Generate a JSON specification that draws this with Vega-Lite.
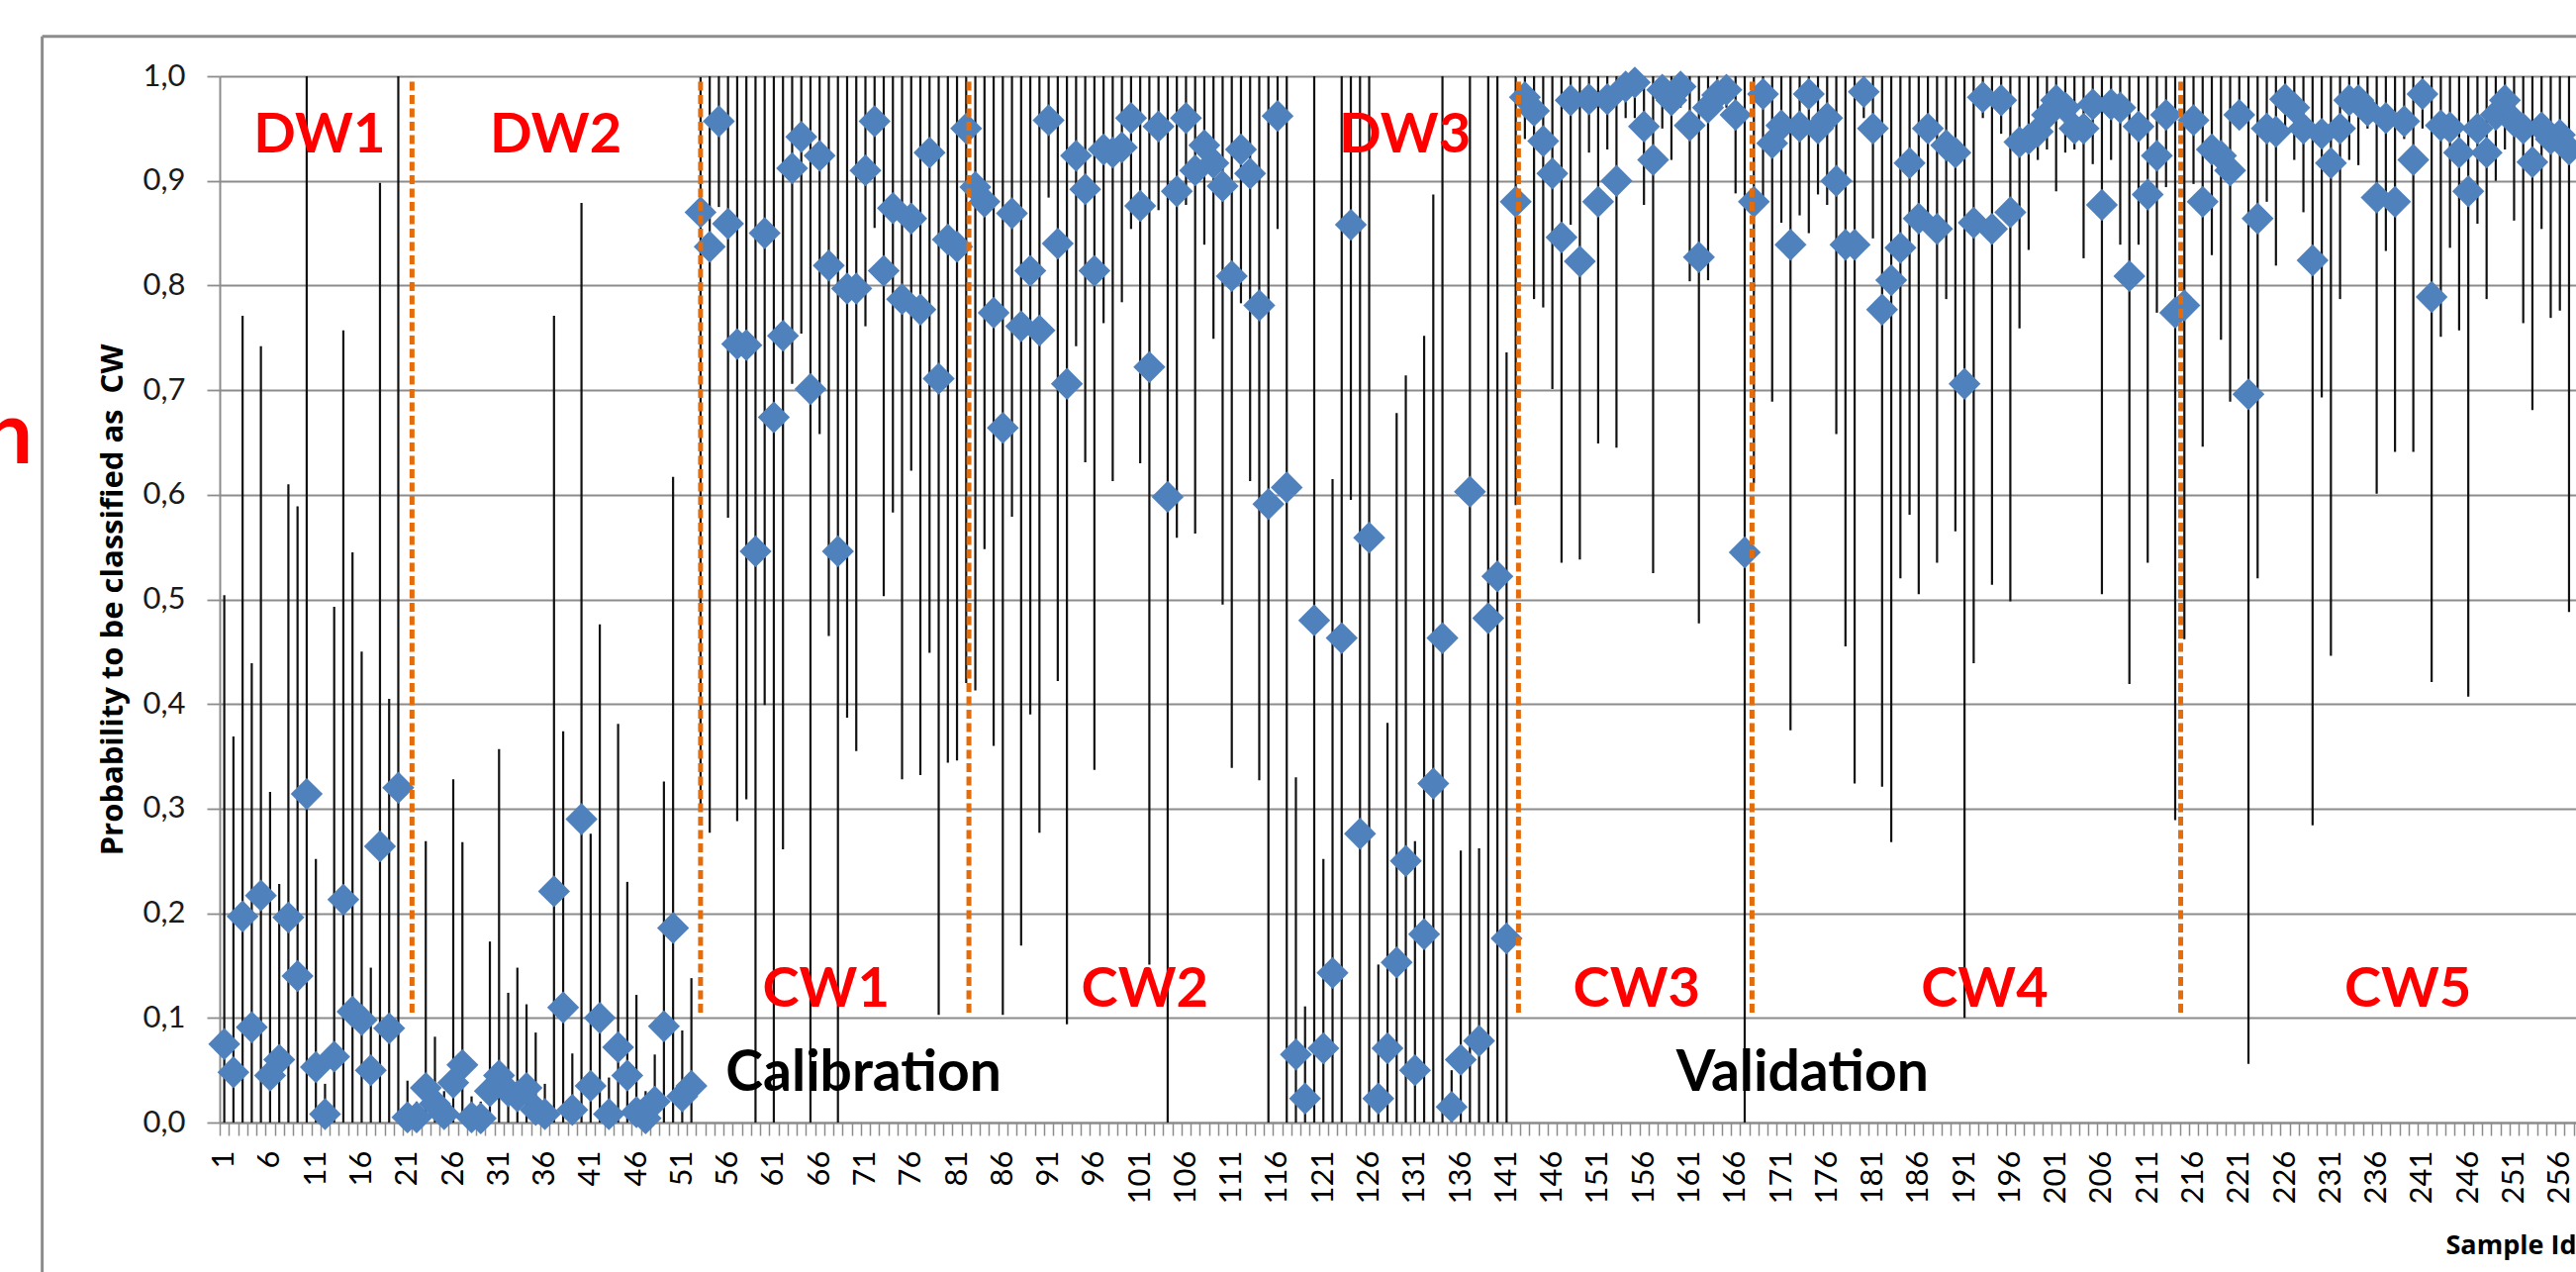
{
  "$schema": "https://vega.github.io/schema/vega-lite/v6.json",
  "width": 2381,
  "height": 1057,
  "autosize": {"type": "none"},
  "padding": {"left": 222, "top": 77, "right": 0, "bottom": 151},
  "background": "white",
  "config": {"view": {"stroke": null}, "font": "Lato", "axis": {"labelFont": "Lato", "titleFont": "Lato"}},
  "datasets": {
    "samples": [
      {"s":1,"p":0.075,"lo":0,"hi":0.504},{"s":2,"p":0.048,"lo":0,"hi":0.369},{"s":3,"p":0.197,"lo":0,"hi":0.771},{"s":4,"p":0.091,"lo":0,"hi":0.439},{"s":5,"p":0.217,"lo":0,"hi":0.742},
      {"s":6,"p":0.045,"lo":0,"hi":0.316},{"s":7,"p":0.06,"lo":0,"hi":0.228},{"s":8,"p":0.196,"lo":0,"hi":0.61},{"s":9,"p":0.14,"lo":0,"hi":0.589},{"s":10,"p":0.314,"lo":0,"hi":1},
      {"s":11,"p":0.053,"lo":0,"hi":0.252},{"s":12,"p":0.008,"lo":0,"hi":0.037},{"s":13,"p":0.063,"lo":0,"hi":0.493},{"s":14,"p":0.213,"lo":0,"hi":0.757},{"s":15,"p":0.106,"lo":0,"hi":0.545},
      {"s":16,"p":0.098,"lo":0,"hi":0.45},{"s":17,"p":0.05,"lo":0,"hi":0.148},{"s":18,"p":0.264,"lo":0,"hi":0.898},{"s":19,"p":0.09,"lo":0,"hi":0.405},{"s":20,"p":0.32,"lo":0,"hi":1},
      {"s":21,"p":0.005,"lo":0,"hi":0.04},{"s":22,"p":0.005,"lo":0,"hi":0.02},{"s":23,"p":0.033,"lo":0,"hi":0.269},{"s":24,"p":0.018,"lo":0,"hi":0.082},{"s":25,"p":0.008,"lo":0,"hi":0.03},
      {"s":26,"p":0.038,"lo":0,"hi":0.328},{"s":27,"p":0.055,"lo":0,"hi":0.268},{"s":28,"p":0.005,"lo":0,"hi":0.025},{"s":29,"p":0.004,"lo":0,"hi":0.02},{"s":30,"p":0.03,"lo":0,"hi":0.173},
      {"s":31,"p":0.045,"lo":0,"hi":0.357},{"s":32,"p":0.03,"lo":0,"hi":0.124},{"s":33,"p":0.025,"lo":0,"hi":0.148},{"s":34,"p":0.033,"lo":0,"hi":0.113},{"s":35,"p":0.012,"lo":0,"hi":0.086},
      {"s":36,"p":0.008,"lo":0,"hi":0.037},{"s":37,"p":0.221,"lo":0,"hi":0.771},{"s":38,"p":0.11,"lo":0,"hi":0.374},{"s":39,"p":0.012,"lo":0,"hi":0.066},{"s":40,"p":0.29,"lo":0,"hi":0.879},
      {"s":41,"p":0.035,"lo":0,"hi":0.276},{"s":42,"p":0.1,"lo":0,"hi":0.476},{"s":43,"p":0.008,"lo":0,"hi":0.043},{"s":44,"p":0.072,"lo":0,"hi":0.381},{"s":45,"p":0.045,"lo":0,"hi":0.23},
      {"s":46,"p":0.01,"lo":0,"hi":0.122},{"s":47,"p":0.004,"lo":0,"hi":0.03},{"s":48,"p":0.02,"lo":0,"hi":0.065},{"s":49,"p":0.092,"lo":0,"hi":0.326},{"s":50,"p":0.186,"lo":0,"hi":0.617},
      {"s":51,"p":0.025,"lo":0,"hi":0.088},{"s":52,"p":0.035,"lo":0,"hi":0.138},{"s":53,"p":0.87,"lo":0.3,"hi":1},{"s":54,"p":0.837,"lo":0.277,"hi":1},{"s":55,"p":0.957,"lo":0.875,"hi":1},
      {"s":56,"p":0.859,"lo":0.578,"hi":1},{"s":57,"p":0.744,"lo":0.288,"hi":1},{"s":58,"p":0.743,"lo":0.309,"hi":1},{"s":59,"p":0.546,"lo":0,"hi":1},{"s":60,"p":0.85,"lo":0.399,"hi":1},
      {"s":61,"p":0.674,"lo":0,"hi":1},{"s":62,"p":0.752,"lo":0.261,"hi":1},{"s":63,"p":0.912,"lo":0.706,"hi":1},{"s":64,"p":0.942,"lo":0.754,"hi":1},{"s":65,"p":0.701,"lo":0,"hi":1},
      {"s":66,"p":0.924,"lo":0.658,"hi":1},{"s":67,"p":0.819,"lo":0.465,"hi":1},{"s":68,"p":0.546,"lo":0,"hi":1},{"s":69,"p":0.797,"lo":0.387,"hi":1},{"s":70,"p":0.797,"lo":0.355,"hi":1},
      {"s":71,"p":0.91,"lo":0.761,"hi":1},{"s":72,"p":0.957,"lo":0.855,"hi":1},{"s":73,"p":0.814,"lo":0.503,"hi":1},{"s":74,"p":0.874,"lo":0.583,"hi":1},{"s":75,"p":0.787,"lo":0.328,"hi":1},
      {"s":76,"p":0.864,"lo":0.623,"hi":1},{"s":77,"p":0.777,"lo":0.332,"hi":1},{"s":78,"p":0.927,"lo":0.449,"hi":1},{"s":79,"p":0.711,"lo":0.103,"hi":1},{"s":80,"p":0.844,"lo":0.344,"hi":1},
      {"s":81,"p":0.837,"lo":0.346,"hi":1},{"s":82,"p":0.95,"lo":0.42,"hi":1},{"s":83,"p":0.894,"lo":0.413,"hi":1},{"s":84,"p":0.88,"lo":0.548,"hi":1},{"s":85,"p":0.774,"lo":0.36,"hi":1},
      {"s":86,"p":0.664,"lo":0.103,"hi":1},{"s":87,"p":0.869,"lo":0.579,"hi":1},{"s":88,"p":0.761,"lo":0.169,"hi":1},{"s":89,"p":0.814,"lo":0.39,"hi":1},{"s":90,"p":0.757,"lo":0.277,"hi":1},
      {"s":91,"p":0.958,"lo":0.884,"hi":1},{"s":92,"p":0.84,"lo":0.422,"hi":1},{"s":93,"p":0.706,"lo":0.094,"hi":1},{"s":94,"p":0.924,"lo":0.742,"hi":1},{"s":95,"p":0.892,"lo":0.631,"hi":1},
      {"s":96,"p":0.814,"lo":0.337,"hi":1},{"s":97,"p":0.93,"lo":0.764,"hi":1},{"s":98,"p":0.927,"lo":0.613,"hi":1},{"s":99,"p":0.932,"lo":0.784,"hi":1},{"s":100,"p":0.96,"lo":0.854,"hi":1},
      {"s":101,"p":0.876,"lo":0.63,"hi":1},{"s":102,"p":0.722,"lo":0.151,"hi":1},{"s":103,"p":0.952,"lo":0.872,"hi":1},{"s":104,"p":0.598,"lo":0,"hi":1},{"s":105,"p":0.89,"lo":0.559,"hi":1},
      {"s":106,"p":0.96,"lo":0.877,"hi":1},{"s":107,"p":0.91,"lo":0.563,"hi":1},{"s":108,"p":0.934,"lo":0.839,"hi":1},{"s":109,"p":0.917,"lo":0.749,"hi":1},{"s":110,"p":0.895,"lo":0.495,"hi":1},
      {"s":111,"p":0.809,"lo":0.339,"hi":1},{"s":112,"p":0.93,"lo":0.783,"hi":1},{"s":113,"p":0.907,"lo":0.613,"hi":1},{"s":114,"p":0.781,"lo":0.327,"hi":1},{"s":115,"p":0.591,"lo":0,"hi":1},
      {"s":116,"p":0.962,"lo":0.854,"hi":1},{"s":117,"p":0.607,"lo":0,"hi":1},{"s":118,"p":0.065,"lo":0,"hi":0.33},{"s":119,"p":0.023,"lo":0,"hi":0.111},{"s":120,"p":0.48,"lo":0,"hi":1},
      {"s":121,"p":0.071,"lo":0,"hi":0.252},{"s":122,"p":0.143,"lo":0,"hi":0.615},{"s":123,"p":0.463,"lo":0,"hi":1},{"s":124,"p":0.858,"lo":0.595,"hi":1},{"s":125,"p":0.276,"lo":0,"hi":1},
      {"s":126,"p":0.559,"lo":0,"hi":1},{"s":127,"p":0.023,"lo":0,"hi":0.151},{"s":128,"p":0.071,"lo":0,"hi":0.382},{"s":129,"p":0.153,"lo":0,"hi":0.678},{"s":130,"p":0.25,"lo":0,"hi":0.714},
      {"s":131,"p":0.05,"lo":0,"hi":0.269},{"s":132,"p":0.18,"lo":0,"hi":0.752},{"s":133,"p":0.324,"lo":0,"hi":0.887},{"s":134,"p":0.463,"lo":0,"hi":1},{"s":135,"p":0.015,"lo":0,"hi":0.05},
      {"s":136,"p":0.06,"lo":0,"hi":0.26},{"s":137,"p":0.603,"lo":0,"hi":1},{"s":138,"p":0.078,"lo":0,"hi":0.262},{"s":139,"p":0.482,"lo":0,"hi":1},{"s":140,"p":0.522,"lo":0,"hi":1},
      {"s":141,"p":0.176,"lo":0,"hi":0.736},{"s":142,"p":0.88,"lo":0.59,"hi":1},{"s":143,"p":0.98,"lo":0.94,"hi":1},{"s":144,"p":0.967,"lo":0.787,"hi":1},{"s":145,"p":0.938,"lo":0.779,"hi":1},
      {"s":146,"p":0.907,"lo":0.701,"hi":1},{"s":147,"p":0.846,"lo":0.535,"hi":1},{"s":148,"p":0.977,"lo":0.858,"hi":1},{"s":149,"p":0.823,"lo":0.538,"hi":1},{"s":150,"p":0.978,"lo":0.927,"hi":1},
      {"s":151,"p":0.88,"lo":0.649,"hi":1},{"s":152,"p":0.978,"lo":0.93,"hi":1},{"s":153,"p":0.9,"lo":0.645,"hi":1},{"s":154,"p":0.99,"lo":0.96,"hi":1},{"s":155,"p":0.994,"lo":0.96,"hi":1},
      {"s":156,"p":0.952,"lo":0.877,"hi":1},{"s":157,"p":0.92,"lo":0.525,"hi":1},{"s":158,"p":0.987,"lo":0.95,"hi":1},{"s":159,"p":0.977,"lo":0.92,"hi":1},{"s":160,"p":0.99,"lo":0.97,"hi":1},
      {"s":161,"p":0.953,"lo":0.804,"hi":1},{"s":162,"p":0.827,"lo":0.477,"hi":1},{"s":163,"p":0.97,"lo":0.805,"hi":1},{"s":164,"p":0.982,"lo":0.97,"hi":1},{"s":165,"p":0.987,"lo":0.97,"hi":1},
      {"s":166,"p":0.963,"lo":0.888,"hi":1},{"s":167,"p":0.545,"lo":0,"hi":1},{"s":168,"p":0.88,"lo":0.611,"hi":1},{"s":169,"p":0.983,"lo":0.877,"hi":1},{"s":170,"p":0.936,"lo":0.689,"hi":1},
      {"s":171,"p":0.953,"lo":0.86,"hi":1},{"s":172,"p":0.839,"lo":0.375,"hi":1},{"s":173,"p":0.952,"lo":0.867,"hi":1},{"s":174,"p":0.983,"lo":0.85,"hi":1},{"s":175,"p":0.95,"lo":0.887,"hi":1},
      {"s":176,"p":0.96,"lo":0.877,"hi":1},{"s":177,"p":0.9,"lo":0.658,"hi":1},{"s":178,"p":0.839,"lo":0.455,"hi":1},{"s":179,"p":0.839,"lo":0.324,"hi":1},{"s":180,"p":0.985,"lo":0.96,"hi":1},
      {"s":181,"p":0.95,"lo":0.845,"hi":1},{"s":182,"p":0.777,"lo":0.321,"hi":1},{"s":183,"p":0.805,"lo":0.268,"hi":1},{"s":184,"p":0.836,"lo":0.52,"hi":1},{"s":185,"p":0.917,"lo":0.581,"hi":1},
      {"s":186,"p":0.864,"lo":0.505,"hi":1},{"s":187,"p":0.95,"lo":0.854,"hi":1},{"s":188,"p":0.854,"lo":0.535,"hi":1},{"s":189,"p":0.934,"lo":0.787,"hi":1},{"s":190,"p":0.927,"lo":0.565,"hi":1},
      {"s":191,"p":0.706,"lo":0.1,"hi":1},{"s":192,"p":0.86,"lo":0.439,"hi":1},{"s":193,"p":0.98,"lo":0.96,"hi":1},{"s":194,"p":0.854,"lo":0.514,"hi":1},{"s":195,"p":0.977,"lo":0.945,"hi":1},
      {"s":196,"p":0.87,"lo":0.498,"hi":1},{"s":197,"p":0.937,"lo":0.759,"hi":1},{"s":198,"p":0.94,"lo":0.834,"hi":1},{"s":199,"p":0.947,"lo":0.92,"hi":1},{"s":200,"p":0.963,"lo":0.93,"hi":1},
      {"s":201,"p":0.977,"lo":0.89,"hi":1},{"s":202,"p":0.97,"lo":0.927,"hi":1},{"s":203,"p":0.95,"lo":0.93,"hi":1},{"s":204,"p":0.95,"lo":0.826,"hi":1},{"s":205,"p":0.973,"lo":0.916,"hi":1},
      {"s":206,"p":0.877,"lo":0.505,"hi":1},{"s":207,"p":0.973,"lo":0.92,"hi":1},{"s":208,"p":0.97,"lo":0.839,"hi":1},{"s":209,"p":0.809,"lo":0.419,"hi":1},{"s":210,"p":0.952,"lo":0.839,"hi":1},
      {"s":211,"p":0.887,"lo":0.535,"hi":1},{"s":212,"p":0.924,"lo":0.774,"hi":1},{"s":213,"p":0.963,"lo":0.894,"hi":1},{"s":214,"p":0.774,"lo":0.289,"hi":1},{"s":215,"p":0.781,"lo":0.462,"hi":1},
      {"s":216,"p":0.958,"lo":0.897,"hi":1},{"s":217,"p":0.88,"lo":0.646,"hi":1},{"s":218,"p":0.93,"lo":0.829,"hi":1},{"s":219,"p":0.924,"lo":0.748,"hi":1},{"s":220,"p":0.91,"lo":0.689,"hi":1},
      {"s":221,"p":0.963,"lo":0.95,"hi":1},{"s":222,"p":0.696,"lo":0.056,"hi":1},{"s":223,"p":0.864,"lo":0.52,"hi":1},{"s":224,"p":0.95,"lo":0.88,"hi":1},{"s":225,"p":0.947,"lo":0.819,"hi":1},
      {"s":226,"p":0.978,"lo":0.95,"hi":1},{"s":227,"p":0.97,"lo":0.92,"hi":1},{"s":228,"p":0.95,"lo":0.87,"hi":1},{"s":229,"p":0.824,"lo":0.284,"hi":1},{"s":230,"p":0.945,"lo":0.693,"hi":1},
      {"s":231,"p":0.917,"lo":0.446,"hi":1},{"s":232,"p":0.95,"lo":0.787,"hi":1},{"s":233,"p":0.977,"lo":0.92,"hi":1},{"s":234,"p":0.977,"lo":0.915,"hi":1},{"s":235,"p":0.967,"lo":0.95,"hi":1},
      {"s":236,"p":0.884,"lo":0.601,"hi":1},{"s":237,"p":0.96,"lo":0.833,"hi":1},{"s":238,"p":0.88,"lo":0.641,"hi":1},{"s":239,"p":0.957,"lo":0.94,"hi":1},{"s":240,"p":0.92,"lo":0.641,"hi":1},
      {"s":241,"p":0.983,"lo":0.95,"hi":1},{"s":242,"p":0.789,"lo":0.421,"hi":1},{"s":243,"p":0.953,"lo":0.751,"hi":1},{"s":244,"p":0.951,"lo":0.836,"hi":1},{"s":245,"p":0.927,"lo":0.757,"hi":1},
      {"s":246,"p":0.89,"lo":0.407,"hi":1},{"s":247,"p":0.95,"lo":0.859,"hi":1},{"s":248,"p":0.927,"lo":0.787,"hi":1},{"s":249,"p":0.963,"lo":0.9,"hi":1},{"s":250,"p":0.977,"lo":0.93,"hi":1},
      {"s":251,"p":0.957,"lo":0.862,"hi":1},{"s":252,"p":0.95,"lo":0.764,"hi":1},{"s":253,"p":0.918,"lo":0.681,"hi":1},{"s":254,"p":0.951,"lo":0.854,"hi":1},{"s":255,"p":0.94,"lo":0.769,"hi":1},
      {"s":256,"p":0.944,"lo":0.776,"hi":1},{"s":257,"p":0.93,"lo":0.488,"hi":1}
    ],
    "groupLines": [{"x":21.5},{"x":53.0},{"x":82.3},{"x":142.3},{"x":167.8},{"x":214.6}],
    "redLabels": [
      {"x":11.4,"y":0.943,"t":"DW1"},{"x":37.2,"y":0.943,"t":"DW2"},{"x":129.9,"y":0.943,"t":"DW3"},
      {"x":66.7,"y":0.127,"t":"CW1"},{"x":101.5,"y":0.127,"t":"CW2"},{"x":155.2,"y":0.127,"t":"CW3"},
      {"x":193.2,"y":0.127,"t":"CW4"},{"x":239.4,"y":0.127,"t":"CW5"}
    ],
    "blackLabels": [{"x":70.8,"y":0.046,"t":"Calibration"},{"x":173.3,"y":0.046,"t":"Validation"}],
    "cutLabel": [{"x":-19.9,"y":0.63,"t":"n"}],
    "frameLeft": [{"x":-18.88,"y":1.038,"y2":-0.2}],
    "frameTop": [{"x":-18.88,"x2":300,"y":1.038}]
  },
  "resolve": {"axis": {"x": "independent", "y": "independent"}},
  "layer": [
    {
      "data": {"name": "samples"},
      "mark": {"type": "rule", "color": "#111111", "strokeWidth": 2.2},
      "encoding": {
        "x": {
          "field": "s", "type": "quantitative",
          "scale": {"domain": [0.5, 257.76], "nice": false, "zero": false},
          "axis": {
            "orient": "bottom", "title": null, "labels": false, "grid": false,
            "ticks": true, "tickSize": 13, "tickColor": "#8c8c8c", "tickWidth": 1.5,
            "domain": true, "domainColor": "#8c8c8c", "domainWidth": 2,
            "values": [0.5,1.5,2.5,3.5,4.5,5.5,6.5,7.5,8.5,9.5,10.5,11.5,12.5,13.5,14.5,15.5,16.5,17.5,18.5,19.5,20.5,21.5,22.5,23.5,24.5,25.5,26.5,27.5,28.5,29.5,30.5,31.5,32.5,33.5,34.5,35.5,36.5,37.5,38.5,39.5,40.5,41.5,42.5,43.5,44.5,45.5,46.5,47.5,48.5,49.5,50.5,51.5,52.5,53.5,54.5,55.5,56.5,57.5,58.5,59.5,60.5,61.5,62.5,63.5,64.5,65.5,66.5,67.5,68.5,69.5,70.5,71.5,72.5,73.5,74.5,75.5,76.5,77.5,78.5,79.5,80.5,81.5,82.5,83.5,84.5,85.5,86.5,87.5,88.5,89.5,90.5,91.5,92.5,93.5,94.5,95.5,96.5,97.5,98.5,99.5,100.5,101.5,102.5,103.5,104.5,105.5,106.5,107.5,108.5,109.5,110.5,111.5,112.5,113.5,114.5,115.5,116.5,117.5,118.5,119.5,120.5,121.5,122.5,123.5,124.5,125.5,126.5,127.5,128.5,129.5,130.5,131.5,132.5,133.5,134.5,135.5,136.5,137.5,138.5,139.5,140.5,141.5,142.5,143.5,144.5,145.5,146.5,147.5,148.5,149.5,150.5,151.5,152.5,153.5,154.5,155.5,156.5,157.5,158.5,159.5,160.5,161.5,162.5,163.5,164.5,165.5,166.5,167.5,168.5,169.5,170.5,171.5,172.5,173.5,174.5,175.5,176.5,177.5,178.5,179.5,180.5,181.5,182.5,183.5,184.5,185.5,186.5,187.5,188.5,189.5,190.5,191.5,192.5,193.5,194.5,195.5,196.5,197.5,198.5,199.5,200.5,201.5,202.5,203.5,204.5,205.5,206.5,207.5,208.5,209.5,210.5,211.5,212.5,213.5,214.5,215.5,216.5,217.5,218.5,219.5,220.5,221.5,222.5,223.5,224.5,225.5,226.5,227.5,228.5,229.5,230.5,231.5,232.5,233.5,234.5,235.5,236.5,237.5,238.5,239.5,240.5,241.5,242.5,243.5,244.5,245.5,246.5,247.5,248.5,249.5,250.5,251.5,252.5,253.5,254.5,255.5,256.5,257.5]
          }
        },
        "y": {
          "field": "lo", "type": "quantitative",
          "scale": {"domain": [0, 1], "nice": false, "zero": false},
          "axis": {
            "orient": "left",
            "values": [0, 0.1, 0.2, 0.3, 0.4, 0.5, 0.6, 0.7, 0.8, 0.9, 1],
            "grid": true, "gridColor": "#8c8c8c", "gridWidth": 1.8,
            "domain": true, "domainColor": "#8c8c8c", "domainWidth": 2,
            "ticks": true, "tickSize": 13, "tickColor": "#8c8c8c", "tickWidth": 1.8,
            "labelExpr": "replace(format(datum.value, '.1f'), '.', ',')",
            "labelFontSize": 31, "labelColor": "#1a1a1a", "labelPadding": 22,
            "title": "Probability to be classified as\u00a0 CW",
            "titleFont": "Open Sans", "titleFontSize": 31, "titleFontWeight": "bold", "titleColor": "#000000", "titlePadding": 14
          }
        },
        "y2": {"field": "hi"}
      }
    },
    {
      "data": {"name": "samples"},
      "mark": {"type": "point", "shape": "diamond", "filled": true, "size": 1050, "color": "#4F81BD", "opacity": 1},
      "encoding": {
        "x": {
          "field": "s", "type": "quantitative",
          "scale": {"domain": [0.5, 257.76], "nice": false, "zero": false},
          "axis": {
            "orient": "bottom", "domain": false, "ticks": false, "tickSize": 0, "grid": false,
            "values": [1,6,11,16,21,26,31,36,41,46,51,56,61,66,71,76,81,86,91,96,101,106,111,116,121,126,131,136,141,146,151,156,161,166,171,176,181,186,191,196,201,206,211,216,221,226,231,236,241,246,251,256],
            "labelAngle": 270, "labelFontSize": 31, "labelColor": "#000000", "labelPadding": 28,
            "labelOverlap": false, "labelFlush": false, "labelBound": false,
            "title": "Sample Id", "titleAnchor": "end", "titleAlign": "right",
            "titleFont": "Open Sans", "titleFontSize": 27, "titleFontWeight": "bold", "titleColor": "#000000", "titlePadding": 30
          }
        },
        "y": {"field": "p", "type": "quantitative", "scale": {"domain": [0, 1], "nice": false, "zero": false}, "axis": null}
      }
    },
    {
      "mark": {"type": "rule", "color": "#FF0000", "strokeWidth": 5, "strokeDash": [28, 23]},
      "encoding": {
        "x": {"datum": 0.9, "type": "quantitative", "scale": {"domain": [0.5, 257.76], "nice": false, "zero": false}, "axis": null},
        "x2": {"datum": 300},
        "y": {"datum": 0.533, "type": "quantitative", "scale": {"domain": [0, 1], "nice": false, "zero": false}, "axis": null}
      }
    },
    {
      "data": {"name": "groupLines"},
      "mark": {"type": "rule", "color": "#E46C0A", "strokeWidth": 5, "strokeDash": [9, 4.5]},
      "encoding": {
        "x": {"field": "x", "type": "quantitative", "scale": {"domain": [0.5, 257.76], "nice": false, "zero": false}, "axis": null},
        "y": {"datum": 0.105, "type": "quantitative", "scale": {"domain": [0, 1], "nice": false, "zero": false}, "axis": null},
        "y2": {"datum": 1.0}
      }
    },
    {
      "mark": {"type": "rule", "color": "#000000", "strokeWidth": 8, "strokeDash": [18, 8]},
      "encoding": {
        "x": {"datum": 117.2, "type": "quantitative", "scale": {"domain": [0.5, 257.76], "nice": false, "zero": false}, "axis": null},
        "y": {"datum": 0, "type": "quantitative", "scale": {"domain": [0, 1], "nice": false, "zero": false}, "axis": null},
        "y2": {"datum": 1.0}
      }
    },
    {
      "data": {"name": "redLabels"},
      "mark": {"type": "text", "color": "#FF0000", "fontSize": 56, "fontWeight": "bold", "font": "Lato", "align": "center", "baseline": "middle"},
      "encoding": {
        "x": {"field": "x", "type": "quantitative", "scale": {"domain": [0.5, 257.76], "nice": false, "zero": false}, "axis": null},
        "y": {"field": "y", "type": "quantitative", "scale": {"domain": [0, 1], "nice": false, "zero": false}, "axis": null},
        "text": {"field": "t"}
      }
    },
    {
      "data": {"name": "blackLabels"},
      "mark": {"type": "text", "color": "#000000", "fontSize": 57, "fontWeight": "bold", "font": "Lato", "align": "center", "baseline": "middle"},
      "encoding": {
        "x": {"field": "x", "type": "quantitative", "scale": {"domain": [0.5, 257.76], "nice": false, "zero": false}, "axis": null},
        "y": {"field": "y", "type": "quantitative", "scale": {"domain": [0, 1], "nice": false, "zero": false}, "axis": null},
        "text": {"field": "t"}
      }
    },
    {
      "data": {"name": "cutLabel"},
      "mark": {"type": "text", "color": "#FF0000", "fontSize": 88, "fontWeight": "bold", "font": "Lato", "align": "right", "baseline": "alphabetic"},
      "encoding": {
        "x": {"field": "x", "type": "quantitative", "scale": {"domain": [0.5, 257.76], "nice": false, "zero": false}, "axis": null},
        "y": {"field": "y", "type": "quantitative", "scale": {"domain": [0, 1], "nice": false, "zero": false}, "axis": null},
        "text": {"field": "t"}
      }
    },
    {
      "data": {"name": "frameLeft"},
      "mark": {"type": "rule", "color": "#8c8c8c", "strokeWidth": 3},
      "encoding": {
        "x": {"field": "x", "type": "quantitative", "scale": {"domain": [0.5, 257.76], "nice": false, "zero": false}, "axis": null},
        "y": {"field": "y", "type": "quantitative", "scale": {"domain": [0, 1], "nice": false, "zero": false}, "axis": null},
        "y2": {"field": "y2"}
      }
    },
    {
      "data": {"name": "frameTop"},
      "mark": {"type": "rule", "color": "#8c8c8c", "strokeWidth": 3},
      "encoding": {
        "x": {"field": "x", "type": "quantitative", "scale": {"domain": [0.5, 257.76], "nice": false, "zero": false}, "axis": null},
        "x2": {"field": "x2"},
        "y": {"field": "y", "type": "quantitative", "scale": {"domain": [0, 1], "nice": false, "zero": false}, "axis": null}
      }
    }
  ]
}
